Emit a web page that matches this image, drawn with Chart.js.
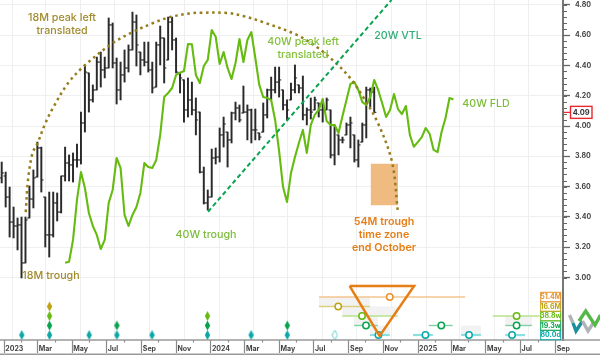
<!DOCTYPE html>
<html><head><meta charset="utf-8">
<style>html,body{margin:0;padding:0;background:#fff}#w{width:600px;height:356px;position:relative}</style>
<script src="https://cdn.jsdelivr.net/npm/chart.js@4"></script></head>
<body><div id="w"><canvas id="c" width="600" height="356"></canvas></div>
<script>
// ---- axis data (x axis unit: days since 1 Jan 2023) ----
const monthDays=[0,31,59,90,120,151,181,212,243,273,304,334,365,396,425,456,486,517,547,578,609,639,670,700,731,762,790,821,851,882,912,943,974];
const monthLabels=['2023','','Mar','','May','','Jul','','Sep','','Nov','','2024','','Mar','','May','','Jul','','Sep','','Nov','','2025','','Mar','','May','','Jul','','Sep'];
const priceTicks=[3.0,3.2,3.4,3.6,3.8,4.0,4.2,4.4,4.6,4.8];
const lastPrice=4.09;
// ---- weekly OHLC ----
const barHigh=[3.762,3.696,3.597,3.465,3.393,3.399,3.399,3.604,3.710,3.894,3.861,3.531,3.564,3.564,3.558,3.670,3.861,3.809,3.822,3.881,4.092,4.403,4.350,4.271,4.455,4.488,4.455,4.713,4.680,4.449,4.422,4.502,4.535,4.752,4.733,4.488,4.554,4.554,4.422,4.554,4.660,4.581,4.719,4.719,4.581,4.350,4.304,4.317,4.290,4.185,4.092,3.729,3.578,3.848,3.855,3.987,4.059,3.960,4.092,4.158,4.139,4.264,4.139,4.112,4.112,3.954,4.152,4.244,4.323,4.389,4.389,4.238,4.172,4.284,4.403,4.271,4.330,4.119,4.185,4.191,4.152,4.172,4.185,4.106,4.007,3.941,3.927,4.020,4.059,3.941,3.908,4.020,4.257,4.251,4.257];
const barLow=[3.624,3.465,3.267,3.261,3.182,2.997,3.096,3.393,3.459,3.663,3.564,3.201,3.135,3.267,3.373,3.426,3.637,3.637,3.630,3.729,3.749,3.960,4.092,4.158,4.238,4.257,4.317,4.383,4.383,4.145,4.172,4.290,4.356,4.502,4.396,4.337,4.396,4.356,4.218,4.257,4.403,4.284,4.436,4.502,4.350,4.218,4.026,4.059,4.073,3.941,3.690,3.485,3.445,3.531,3.749,3.762,3.861,3.729,3.888,4.040,4.026,4.086,3.908,3.888,3.908,3.908,3.960,4.053,4.172,4.218,4.191,4.106,4.040,4.172,4.218,4.218,4.040,4.007,4.046,4.106,4.059,4.026,4.106,3.789,3.743,3.809,3.888,3.941,3.855,3.762,3.729,3.894,3.921,4.125,4.092];
const barOpen=[3.657,3.670,3.531,3.366,3.340,3.347,3.096,3.393,3.518,3.663,3.855,3.531,3.281,3.281,3.492,3.432,3.670,3.756,3.743,3.776,3.776,4.020,4.350,4.172,4.238,4.422,4.370,4.383,4.667,4.416,4.238,4.337,4.383,4.502,4.686,4.488,4.436,4.422,4.370,4.257,4.535,4.581,4.436,4.686,4.568,4.350,4.304,4.106,4.172,4.106,4.092,3.696,3.492,3.531,3.789,3.795,3.941,3.960,3.908,4.086,4.119,4.086,4.092,4.106,3.974,3.954,3.960,4.073,4.238,4.238,4.290,4.238,4.139,4.172,4.238,4.271,4.251,4.073,4.106,4.106,4.152,4.106,4.106,4.106,3.809,3.941,3.908,3.941,4.007,3.941,3.776,3.894,4.007,4.238,4.224];
const barClose=[3.690,3.531,3.366,3.340,3.347,3.096,3.380,3.518,3.657,3.855,3.644,3.281,3.281,3.492,3.432,3.670,3.756,3.743,3.776,3.776,4.020,4.356,4.172,4.238,4.422,4.370,4.383,4.667,4.416,4.238,4.337,4.383,4.502,4.686,4.535,4.436,4.422,4.370,4.251,4.535,4.581,4.383,4.686,4.568,4.356,4.317,4.106,4.172,4.106,4.040,3.696,3.492,3.531,3.789,3.795,3.941,4.013,3.908,4.086,4.119,4.040,4.092,4.106,3.974,3.974,3.927,4.073,4.238,4.238,4.290,4.304,4.139,4.106,4.238,4.317,4.251,4.073,4.106,4.092,4.172,4.106,4.106,4.172,3.809,3.987,3.908,3.908,4.007,4.020,3.776,3.875,4.007,4.238,4.224,4.09];
// ---- 40 week FLD, starts at week 16 ----
const fldStartWeek=16;
const fld40w=[3.098,3.104,3.248,3.512,3.696,3.591,3.426,3.340,3.281,3.188,3.248,3.492,3.578,3.789,3.723,3.413,3.340,3.413,3.465,3.558,3.756,3.729,3.723,3.776,3.941,4.191,4.218,4.251,4.337,4.352,4.363,4.541,4.539,4.337,4.284,4.396,4.436,4.634,4.589,4.409,4.488,4.383,4.310,4.416,4.574,4.422,4.568,4.620,4.449,4.271,4.191,4.185,4.172,4.040,3.835,3.597,3.498,3.690,3.795,3.888,3.974,3.822,4.007,4.073,4.106,4.178,4.033,4.007,4.007,3.954,4.066,4.172,4.277,4.290,4.238,4.158,4.139,4.191,4.304,4.238,4.152,4.059,4.106,4.211,4.112,4.079,4.132,3.941,3.863,3.894,3.927,3.987,3.947,3.842,3.828,3.960,4.053,4.185,4.175];
// ---- overlays ----
const arcDays=[39,43,51,60,73,87,114,144,193,228,264,294,334,347,395,423,458,518,553,585,612,635,661,686,696];
const arcVals=[3.432,3.644,3.822,3.888,4.013,4.119,4.284,4.403,4.548,4.620,4.680,4.719,4.746,4.748,4.746,4.726,4.686,4.601,4.521,4.422,4.317,4.191,4.020,3.762,3.446];
const vtlDays=[361,685]; const vtlVals=[3.434,4.832];
const zoneDay=672.5; const zoneRange=[3.479,3.749];
// ---- cycle panel (rows: 0=80d,1=19w,2=39w,3=17M,4=51M) ----
const cycleColors=['#0aa8a8','#0aa34f','#66bb11','#bfa316','#e8912d'];
const cycleLight=['#8adfdf','#7fd0a4','#b9e28c','#dccf80','#f3c48f'];
const cycleNames=['80.0d','19.3w','38.8w','16.6M','51.4M'];
const diamondDays=[[32,81,151,200,262,360,437,501],[81,200,360,501],[81,360],[81],[]];
const hollowDay=585;
const lineStart=[[647,723,808,886],[619,751,886],[598,864],[557],[557]];
const lineEnd=[[682,758,843,921],[661,793,933],[696,947],[647],[815]];
const circleDay=[[662,745,822,898],[640,773,906],[633,906],[591],[682]];
const bandStart=[[647,808],[619,886],[598],[557]];
const bandEnd=[[682,843],[661,933],[696],[647]];
const triDays=[611,725,664,611]; const triRows=[5.16,5.16,-0.1,5.16];

const dayOfWeek=w=>-3.5+7*w;
const weeks=barHigh.map((_,i)=>i);
function diamond(col,hollow){const c=document.createElement('canvas');c.width=7;c.height=11;const g=c.getContext('2d');
 g.beginPath();g.moveTo(3.5,.6);g.lineTo(6.2,5.5);g.lineTo(3.5,10.4);g.lineTo(.8,5.5);g.closePath();
 if(hollow){g.strokeStyle=col;g.lineWidth=1;g.stroke();}else{g.fillStyle=col;g.fill();}return c;}

const ds=[];
// top-most first
cycleColors.forEach((col,r)=>{ if(diamondDays[r].length) ds.push({type:'line',data:diamondDays[r].map(d=>({x:d,y:r})),yAxisID:'rows',showLine:false,pointStyle:diamond(col),pointRadius:5});});
ds.push({type:'line',data:[{x:hollowDay,y:0}],yAxisID:'rows',showLine:false,pointStyle:diamond('#5fd0d0',true),pointRadius:5});
ds.push({type:'line',data:triDays.map((d,i)=>({x:d,y:triRows[i]})),yAxisID:'rows',borderColor:'#e67e16',borderWidth:2.5,pointRadius:0,borderJoinStyle:'miter',tension:0,clip:false});
cycleColors.forEach((col,r)=>{ ds.push({type:'line',data:circleDay[r].map(d=>({x:d,y:r})),yAxisID:'rows',showLine:false,pointRadius:3.2,pointBackgroundColor:'#fff',pointBorderColor:col,pointBorderWidth:1.5});});
cycleColors.forEach((col,r)=>{ lineStart[r].forEach((s,i)=>ds.push({type:'line',data:[{x:s,y:r},{x:lineEnd[r][i],y:r}],yAxisID:'rows',borderColor:cycleLight[r],borderWidth:r==0?2.2:1.4,pointRadius:0}));});
bandStart.forEach((a,r)=>a.forEach((s,i)=>ds.push({type:'line',data:[{x:s,y:r+.5},{x:bandEnd[r][i],y:r+.5}],yAxisID:'rows',borderColor:'#f2f2f2',borderWidth:9.5,pointRadius:0})));
ds.push({type:'line',data:vtlDays.map((d,i)=>({x:d,y:vtlVals[i]})),borderColor:'#0aa34f',borderWidth:2,borderDash:[4.5,3],pointRadius:0});
ds.push({type:'line',data:arcDays.map((d,i)=>({x:d,y:arcVals[i]})),borderColor:'#957d1c',borderWidth:2.5,borderDash:[2.6,3.6],pointRadius:0,tension:.35});
ds.push({type:'line',data:fld40w.map((v,i)=>({x:dayOfWeek(i+fldStartWeek),y:v})),borderColor:'#66bb11',borderWidth:2.1,pointRadius:0,tension:0,borderJoinStyle:'round'});
ds.push({type:'line',data:weeks.map(w=>({x:dayOfWeek(w),y:barClose[w]})),showLine:false,pointStyle:'dash',pointRadius:2.2,pointRotation:0,pointBorderColor:'#222',pointBorderWidth:1});
ds.push({type:'line',data:weeks.map(w=>({x:dayOfWeek(w),y:barOpen[w]})),showLine:false,pointStyle:'dash',pointRadius:2.2,pointRotation:180,pointBorderColor:'#222',pointBorderWidth:1});
ds.push({type:'bar',data:weeks.map(w=>({x:dayOfWeek(w),y:[barLow[w],barHigh[w]]})),backgroundColor:'#2a2a2a',barThickness:1.3,grouped:false});
ds.push({type:'bar',data:[{x:zoneDay,y:zoneRange}],backgroundColor:'#efbb80',barThickness:26.5,grouped:false});

const notes=[
 ['18M peak left',62,18,'#a08a2a',500,10.7],['translated',62,31,'#a08a2a',500,10.7],
 ['18M trough',51,276,'#a08a2a',500,10.7],
 ['40W peak left',303,42,'#84c13a',500,10.7],['translated',303,55,'#84c13a',500,10.7],
 ['20W VTL',398,36,'#2fae77',500,10.7],['40W FLD',486,104,'#7dbb3d',500,10.7],
 ['40W trough',206,235,'#7dbb3d',500,10.7],
 ['54M trough',384,222,'#e67e16',600,10.7],['time zone',384,235,'#e67e16',600,10.7],['end October',384,248,'#e67e16',600,10.7]];

const decor={id:'decor',
 afterDatasetsDraw(ch){const g=ch.ctx,y=ch.scales.y,x=ch.scales.x,rows=ch.scales.rows;g.save();
  // annotations
  g.textAlign='center';g.textBaseline='middle';
  notes.forEach(n=>{g.font=`${n[4]} ${n[5]}px Inter`;g.fillStyle=n[3];g.fillText(n[0],n[1],n[2]);});
  // minor price ticks
  g.strokeStyle='#666';g.lineWidth=1;g.beginPath();
  for(let k=0;k<=45;k++){const py=Math.round(y.getPixelForValue(3+k*.04))+.5;g.moveTo(563,py);g.lineTo(567,py);}g.stroke();
  // time axis
  const b=340;g.strokeStyle='#8a8a8a';g.lineWidth=1.2;g.beginPath();
  monthDays.forEach((d,i)=>{const px=Math.round(x.getPixelForValue(d))+.5;g.moveTo(px,b);g.lineTo(px,i%2?b+2.5:b+13);});g.stroke();
  g.lineWidth=1.5;g.strokeStyle='#999';g.beginPath();g.moveTo(0,340);g.lineTo(600,340);g.moveTo(0,354.2);g.lineTo(600,354.2);g.stroke();
  // cycle legend
  g.font='700 7px Inter';g.textAlign='center';g.textBaseline='middle';
  cycleNames.forEach((t,r)=>{const py=rows.getPixelForValue(r);g.fillStyle='#fff';g.fillRect(540.7,py-4.7,20,9.4);g.strokeStyle=cycleColors[r];g.lineWidth=1;g.strokeRect(540.7,py-4.7,20,9.4);g.fillStyle=cycleColors[r];g.fillText(t,550.7,py+.3);});
  // last price
  const p=y.getPixelForValue(lastPrice);
  g.strokeStyle='#e8282c';g.lineWidth=1.2;g.beginPath();g.moveTo(563,p);g.lineTo(570.5,p);g.stroke();
  g.fillStyle='#fff';g.fillRect(570.5,p-6,21.5,12);g.lineWidth=1.4;g.strokeRect(570.5,p-6,21.5,12);
  g.fillStyle='#333';g.font='700 7.5px Inter';g.fillText(lastPrice.toFixed(2),581.2,p+.3);
  // logo
  g.lineCap='butt';g.lineJoin='miter';g.lineWidth=3.4;
  const poly=(c,pts)=>{g.strokeStyle=c;g.beginPath();pts.forEach((q,i)=>i?g.lineTo(q[0],q[1]):g.moveTo(q[0],q[1]));g.stroke();};
  poly('#b0b4b6',[[569.5,315],[573,323]]);
  poly('#1b8f9c',[[573,323],[576,331],[582.5,321]]);
  poly('#b0b4b6',[[582.5,321],[588,331],[594,322]]);
  poly('#55b848',[[579,321],[585.7,311],[595,325],[600.5,315]]);
  g.restore();
 }};

new Chart(document.getElementById('c'),{
 data:{datasets:ds},
 plugins:[decor],
 options:{responsive:false,animation:false,events:[],
  layout:{padding:0,autoPadding:false},
  plugins:{legend:{display:false},tooltip:{enabled:false}},
  scales:{
   x:{type:'linear',min:-6.5,max:988,offset:false,position:'bottom',
    afterBuildTicks(s){s.ticks=monthDays.map(v=>({value:v}));},
    afterFit(s){s.height=16;s.paddingLeft=0;s.paddingRight=0;},
    border:{display:false},
    grid:{drawTicks:false,color:c=>(c.index%2?'#efefef':'rgba(0,0,0,0)'),lineWidth:1},
    ticks:{autoSkip:false,maxRotation:0,minRotation:0,align:'start',labelOffset:1.6,padding:4.5,color:'#444',font:{family:'Inter',size:7,weight:'700'},
     callback(v,i){return monthLabels[i];}}},
   y:{type:'linear',position:'right',min:2.5875,max:4.8317,
    afterBuildTicks(s){s.ticks=priceTicks.map(v=>({value:v}));},
    afterFit(s){s.width=37;s.paddingTop=0;s.paddingBottom=0;},
    border:{display:true,color:'#777',width:2},
    grid:{color:'#efefef',lineWidth:1,tickLength:7,tickColor:'#666',tickWidth:1.3},
    ticks:{padding:5,color:'#444',font:{family:'Inter',size:7,weight:'700'},callback:v=>Number(v).toFixed(2)}},
   rows:{axis:'y',type:'linear',display:false,position:'left',min:-0.526,max:35.26}
  }}
});
</script></body></html>
